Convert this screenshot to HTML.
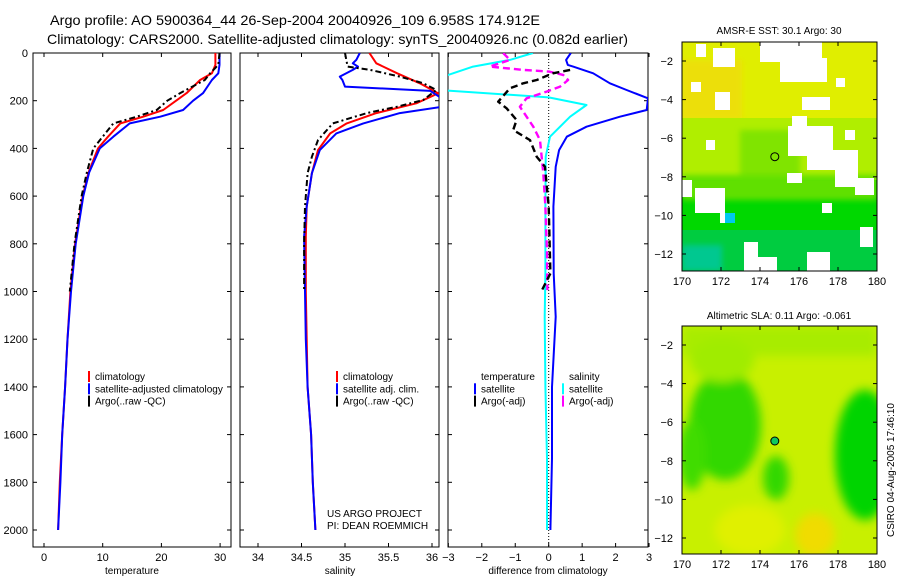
<!DOCTYPE html>
<html><head><meta charset="utf-8">
<style>
html,body{margin:0;padding:0;background:#fff;}
svg{display:block;font-family:"Liberation Sans",sans-serif;}
</style></head>
<body>
<svg id="fig" width="900" height="580" viewBox="0 0 900 580" xmlns="http://www.w3.org/2000/svg">
<defs>
<clipPath id="c1"><rect x="33" y="53" width="198" height="494"/></clipPath>
<clipPath id="c2"><rect x="240" y="53" width="199" height="494"/></clipPath>
<clipPath id="c3"><rect x="448" y="53" width="200" height="494"/></clipPath>
<clipPath id="cm1"><rect x="682" y="42" width="195" height="229"/></clipPath>
<clipPath id="cm2"><rect x="682" y="326" width="195" height="228"/></clipPath>
<filter id="bl" x="-20%" y="-20%" width="140%" height="140%"><feGaussianBlur stdDeviation="5"/></filter>
<filter id="bl2" x="-20%" y="-20%" width="140%" height="140%"><feGaussianBlur stdDeviation="3"/></filter>
</defs>
<text x="50" y="25" font-size="14" textLength="490" lengthAdjust="spacingAndGlyphs">Argo profile: AO 5900364_44 26-Sep-2004 20040926_109 6.958S 174.912E</text>
<text x="47" y="44" font-size="14" textLength="581" lengthAdjust="spacingAndGlyphs">Climatology: CARS2000. Satellite-adjusted climatology: synTS_20040926.nc (0.082d earlier)</text>

<!-- map 1 -->
<g>
<g clip-path="url(#cm1)">
<rect x="682" y="42" width="195" height="229" fill="#00d800"/>
<rect x="682" y="42" width="195" height="80" fill="#e0ee00"/>
<rect x="682" y="60" width="60" height="60" fill="#f0dc10" opacity="0.8" filter="url(#bl2)"/>
<rect x="682" y="118" width="195" height="62" fill="#b0ee00"/>
<rect x="740" y="130" width="60" height="50" fill="#80e400" filter="url(#bl2)"/>
<rect x="682" y="175" width="195" height="25" fill="#60e000" filter="url(#bl2)"/>
<rect x="682" y="230" width="195" height="41" fill="#00cc40"/>
<rect x="682" y="245" width="40" height="26" fill="#00c890" filter="url(#bl2)"/>
<rect x="725" y="213" width="10" height="10" fill="#00c8f0"/>
<g fill="#fff">
<rect x="696" y="44" width="10" height="13"/><rect x="713" y="48" width="22" height="19"/>
<rect x="760" y="42" width="62" height="20"/><rect x="780" y="58" width="47" height="24"/>
<rect x="836" y="78" width="9" height="9"/><rect x="691" y="82" width="10" height="10"/>
<rect x="715" y="92" width="15" height="18"/><rect x="802" y="97" width="28" height="13"/>
<rect x="792" y="116" width="15" height="14"/><rect x="788" y="126" width="45" height="30"/>
<rect x="807" y="150" width="30" height="20"/><rect x="845" y="130" width="10" height="10"/>
<rect x="835" y="150" width="23" height="37"/><rect x="855" y="178" width="19" height="17"/>
<rect x="706" y="140" width="9" height="10"/><rect x="787" y="173" width="15" height="10"/>
<rect x="682" y="180" width="10" height="17"/><rect x="695" y="188" width="30" height="25"/>
<rect x="720" y="203" width="5" height="20"/><rect x="822" y="203" width="10" height="10"/>
<rect x="860" y="227" width="13" height="20"/><rect x="744" y="242" width="14" height="29"/>
<rect x="758" y="257" width="19" height="14"/><rect x="807" y="252" width="23" height="19"/>
</g>
</g>
<circle cx="774.8" cy="156.7" r="4" fill="none" stroke="#000" stroke-width="1"/>
<rect x="682" y="42" width="195" height="229" fill="none" stroke="#000" stroke-width="1"/>
<text x="779" y="34" font-size="10" text-anchor="middle">AMSR-E SST: 30.1 Argo: 30</text>
</g>

<!-- map 2 -->
<g>
<g clip-path="url(#cm2)">
<rect x="682" y="326" width="195" height="228" fill="#c8f000"/>
<g filter="url(#bl)">
<rect x="682" y="326" width="195" height="30" fill="#a8ec00"/>
<ellipse cx="725" cy="425" rx="36" ry="55" fill="#30d800"/>
<ellipse cx="692" cy="455" rx="14" ry="35" fill="#40dc00"/>
<ellipse cx="865" cy="455" rx="30" ry="65" fill="#00d400"/>
<ellipse cx="776" cy="478" rx="13" ry="22" fill="#30d800"/>
<ellipse cx="722" cy="360" rx="32" ry="22" fill="#a0ec00"/>
<ellipse cx="815" cy="535" rx="20" ry="22" fill="#f0dc00"/>
<ellipse cx="750" cy="530" rx="35" ry="25" fill="#e0f000"/>
</g>
</g>
<circle cx="774.8" cy="441" r="4" fill="#10c860" stroke="#000" stroke-width="1"/>
<rect x="682" y="326" width="195" height="228" fill="none" stroke="#000" stroke-width="1"/>
<text x="779" y="319" font-size="10" text-anchor="middle">Altimetric SLA: 0.11 Argo: -0.061</text>
</g>
<text transform="translate(894,537) rotate(-90)" font-size="10">CSIRO 04-Aug-2005 17:46:10</text>

<g id="plots"></g>
</svg>
<script>
// ---- data ----
const depthTickLabels = [0,200,400,600,800,1000,1200,1400,1600,1800,2000];
const tempTicks = [0,10,20,30];
const salTicks = [34,34.5,35,35.5,36];
const diffTicks = [-3,-2,-1,0,1,2,3];
const lonTicks = [170,172,174,176,178,180];
const latTicks = [-2,-4,-6,-8,-10,-12];

const tempClimDepth = [0,50,85,113,168,200,239,267,295,351,400,500,600,800,1000,1200,1400,1600,1800,2000];
const tempClim = [29.2,29.2,28.6,26.6,24.3,22.5,20.3,16.9,13.0,10.9,9.2,7.6,6.6,5.3,4.5,4.0,3.6,3.1,2.7,2.4];
const tempSatDepth = [0,50,85,113,168,200,239,267,295,351,400,500,600,800,1000,1200,1400,1600,1800,2000];
const tempSat = [29.9,29.9,29.7,28.6,27.1,25.4,23.7,19.8,14.6,11.8,9.5,7.7,6.7,5.4,4.6,4.0,3.6,3.1,2.8,2.4];
const tempArgoDepth = [0,50,85,113,168,200,239,267,295,351,400,500,600,800,1000];
const tempArgo = [29.9,29.7,28.3,27.4,23.2,21.0,19.2,15.8,11.8,10.0,8.4,7.3,6.4,5.2,4.4];

const salClimDepth = [0,43,85,127,169,211,252,295,337,407,504,644,770,1000,1200,1400,1600,1800,2000];
const salClim = [35.28,35.36,35.6,35.86,36.07,35.82,35.36,35.02,34.83,34.69,34.62,34.56,34.55,34.55,34.56,34.57,34.61,34.63,34.66];
const salSatDepth = [0,29,43,57,71,99,113,141,159,183,210,225,252,295,337,407,504,644,770,1000,1200,1400,1600,1800,2000];
const salSat = [35.17,35.13,35.09,35.15,35.09,34.94,34.97,35.0,35.98,36.08,36.12,36.12,35.63,35.21,34.9,34.71,34.62,34.56,34.53,34.54,34.55,34.57,34.61,34.63,34.66];
const salArgoDepth = [0,57,71,99,127,155,197,225,252,295,365,435,504,644,800,1000];
const salArgo = [35.0,35.03,35.29,35.63,35.9,36.05,35.9,35.6,35.25,34.86,34.69,34.62,34.57,34.54,34.53,34.53];

const dTempSatDepth = [0,29,50,57,85,127,155,190,239,267,309,351,407,477,644,924,1106,1400,1700,2000];
const dTempSat = [0.66,0.52,0.57,0.73,1.33,1.83,2.33,2.97,2.93,2.13,1.13,0.54,0.31,0.21,0.14,0.15,0.21,0.1,0.1,0.05];
const dSalSatDepth = [0,29,57,85,106,155,186,218,267,351,435,644,924,1106,1400,1700,2000];
const dSalSat = [-0.47,-1.16,-2.26,-2.86,-3.3,-3.3,0,1.13,0.64,0.04,-0.09,-0.1,-0.1,-0.12,-0.1,-0.05,-0.05];
const dTempArgoDepth = [71,85,113,127,148,204,232,281,323,365,435,477,644,924,994];
const dTempArgo = [0.64,0.13,-0.36,-0.76,-1.16,-1.51,-1.26,-0.96,-1.06,-0.56,-0.36,-0.11,0,0.05,-0.2];
const dSalArgoDepth = [0,29,57,71,78,92,113,141,162,190,225,309,365,504,644,840,994];
const dSalArgo = [-1.36,-1.16,-1.76,-0.76,0.01,0.43,0.58,0.34,-0.06,-0.66,-0.86,-0.46,-0.26,-0.16,-0.1,-0.05,-0.04];

// ---- axes ----
const yD = d => 53 + d*0.2385;
const xT = v => 44 + v*5.87;
const xS = v => 258 + (v-34)*87;
const xDf = v => 548.7 + v*33.45;
const xLon = l => 682 + (l-170)*19.5;
const yLat1 = l => 61 + (-2-l)*19.3;
const yLat2 = l => 345 + (-2-l)*19.3;

const NS = "http://www.w3.org/2000/svg";
const root = document.getElementById('plots');
function mk(tag, attrs, parent){
  const e = document.createElementNS(NS, tag);
  for (const k in attrs) e.setAttribute(k, attrs[k]);
  (parent||root).appendChild(e);
  return e;
}
function txt(x,y,s,size,anchor,parent){
  const t = mk('text',{x:x,y:y,'font-size':size,'text-anchor':anchor||'start'},parent);
  t.textContent = s;
  return t;
}
function line(xs, ds, xf, color, w, dash, clip, name){
  const pts = xs.map((v,i)=> xf(v).toFixed(1)+','+yD(ds[i]).toFixed(1)).join(' ');
  const p = mk('polyline',{points:pts,fill:'none',stroke:color,'stroke-width':w,'clip-path':'url(#'+clip+')','stroke-linejoin':'round'});
  if (dash) p.setAttribute('stroke-dasharray', dash);
  
  
  return p;
}

const panels = [
  {x0:33,x1:231,ticks:tempTicks,xf:xT,lab:'temperature',cx:132},
  {x0:240,x1:439,ticks:salTicks,xf:xS,lab:'salinity',cx:340},
  {x0:448,x1:648,ticks:diffTicks,xf:xDf,lab:'difference from climatology',cx:548}
];
panels.forEach((p,pi)=>{
  const g = mk('g',{});
  
  
  mk('rect',{x:p.x0,y:53,width:p.x1-p.x0,height:494,fill:'none',stroke:'#000','stroke-width':1},g);
  p.ticks.forEach(t=>{
    const x = p.xf(t);
    mk('line',{x1:x,y1:53,x2:x,y2:57,stroke:'#000'},g);
    mk('line',{x1:x,y1:547,x2:x,y2:543,stroke:'#000'},g);
    const tl = txt(x,561,String(t).replace('-','\u2212'),11,'middle',g);
    
    
  });
  depthTickLabels.forEach(d=>{
    const y = yD(d);
    mk('line',{x1:p.x0,y1:y,x2:p.x0+4,y2:y,stroke:'#000'},g);
    mk('line',{x1:p.x1,y1:y,x2:p.x1-4,y2:y,stroke:'#000'},g);
  });
  const xl = txt(p.cx,574,p.lab,10,'middle',g);
  
  
});
depthTickLabels.forEach(d=>{
  const t = txt(28,yD(d)+4,String(d),11,'end');
  
  
});
const zl = mk('line',{x1:xDf(0),y1:53,x2:xDf(0),y2:547,stroke:'#000','stroke-width':1,'stroke-dasharray':'1,2'});



line(tempClim,tempClimDepth,xT,'#ff0000',2,null,'c1','temp-climatology-line');
line(tempSat,tempSatDepth,xT,'#0000ff',2,null,'c1','temp-satellite-line');
line(tempArgo,tempArgoDepth,xT,'#000',2,'6,3,2,3','c1','temp-argo-line');
line(salClim,salClimDepth,xS,'#ff0000',2,null,'c2','sal-climatology-line');
line(salSat,salSatDepth,xS,'#0000ff',2,null,'c2','sal-satellite-line');
line(salArgo,salArgoDepth,xS,'#000',2,'6,3,2,3','c2','sal-argo-line');
line(dTempSat,dTempSatDepth,xDf,'#0000ff',2,null,'c3','diff-temp-satellite-line');
line(dSalSat,dSalSatDepth,xDf,'#00ffff',2,null,'c3','diff-sal-satellite-line');
line(dSalArgo,dSalArgoDepth,xDf,'#ff00ff',2.4,'7,4','c3','diff-sal-argo-line');
line(dTempArgo,dTempArgoDepth,xDf,'#000',2.4,'7,4','c3','diff-temp-argo-line');

function legend(x,y,items,name){
  const g = mk('g',{});
  
  
  items.forEach((it,i)=>{
    const yy = y + i*12.3;
    if (it[1]) mk('rect',{x:x,y:yy-9,width:2,height:11,fill:it[1]},g);
    txt(x+7,yy,it[0],10,'start',g);
  });
}
legend(88,380,[['climatology','#ff0000'],['satellite-adjusted climatology','#0000ff'],['Argo(..raw -QC)','#000']],'temp-legend');
legend(336,380,[['climatology','#ff0000'],['satellite adj. clim.','#0000ff'],['Argo(..raw -QC)','#000']],'sal-legend');
legend(474,380,[['temperature',null],['satellite','#0000ff'],['Argo(-adj)','#000']],'diff-temp-legend');
legend(562,380,[['salinity',null],['satellite','#00ffff'],['Argo(-adj)','#ff00ff']],'diff-sal-legend');
const cr1 = txt(327,517,'US ARGO PROJECT',10,'start');  
const cr2 = txt(327,529,'PI: DEAN ROEMMICH',10,'start');  

[[42,271,yLat1],[326,554,yLat2]].forEach((m,mi)=>{
  const g = mk('g',{});
  
  
  lonTicks.forEach(l=>{
    const x = xLon(l);
    mk('line',{x1:x,y1:m[0],x2:x,y2:m[0]+4,stroke:'#000'},g);
    mk('line',{x1:x,y1:m[1],x2:x,y2:m[1]-4,stroke:'#000'},g);
    txt(x,m[1]+14,String(l),11,'middle',g);
  });
  latTicks.forEach(l=>{
    const y = m[2](l);
    mk('line',{x1:682,y1:y,x2:686,y2:y,stroke:'#000'},g);
    mk('line',{x1:877,y1:y,x2:873,y2:y,stroke:'#000'},g);
    txt(673,y+4,String(l).replace('-','\u2212'),11,'end',g);
  });
});
</script>
</body></html>
